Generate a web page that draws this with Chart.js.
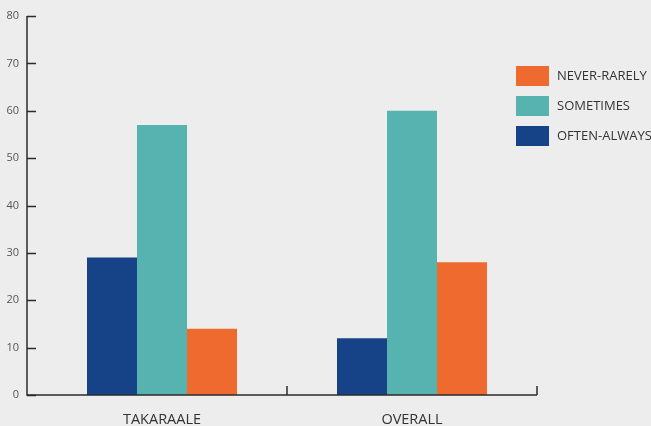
<!DOCTYPE html>
<html>
<head>
<meta charset="utf-8">
<script src="https://cdn.jsdelivr.net/npm/chart.js@4/dist/chart.umd.min.js"></script>
<style>
  html, body { margin: 0; padding: 0; background: #ededed; }
  #wrap { width: 651px; height: 426px; }
</style>
</head>
<body>
<div id="wrap"><canvas id="c" width="651" height="426"></canvas></div>
<script>
const categories = ['TAKARAALE', 'OVERALL'];
const oftenAlways = [29, 12];
const sometimes = [57, 60];
const neverRarely = [14, 28];
const yTicks = [0, 10, 20, 30, 40, 50, 60, 70, 80];

const FONT = '"Open Sans", "Noto Sans", sans-serif';
const AXIS = '#2b2b2b';
const AXIS_X = 27; // the vertical axis line sits a little left of the plotting area

// Axis lines, inward tick marks and the right-hand legend
const decor = {
  id: 'decor',
  afterDraw(chart) {
    const ctx = chart.ctx;
    const { left, right, top, bottom } = chart.chartArea;
    const y = chart.scales.y;
    ctx.save();
    ctx.strokeStyle = AXIS;
    ctx.lineWidth = 1.5;
    ctx.beginPath();
    ctx.moveTo(AXIS_X, top);
    ctx.lineTo(AXIS_X, bottom);
    ctx.lineTo(right, bottom);
    ctx.stroke();
    yTicks.forEach(v => {
      const py = Math.round(y.getPixelForValue(v)) + 0.5;
      ctx.beginPath();
      ctx.moveTo(AXIS_X, py);
      ctx.lineTo(AXIS_X + 9, py);
      ctx.stroke();
    });
    // category boundaries on the x axis
    for (let i = 1; i <= categories.length; i++) {
      const px = left + (right - left) * i / categories.length;
      ctx.beginPath();
      ctx.moveTo(px, bottom);
      ctx.lineTo(px, bottom - 9);
      ctx.stroke();
    }
    // legend, listed in reverse dataset order
    const ds = chart.data.datasets.slice().reverse();
    ctx.font = '13px ' + FONT;
    ctx.textBaseline = 'middle';
    ds.forEach((d, i) => {
      const t = 66 + i * 30;
      ctx.fillStyle = d.backgroundColor;
      ctx.fillRect(516, t, 33, 20);
      ctx.fillStyle = '#333';
      ctx.fillText(d.label, 557, t + 10);
    });
    ctx.restore();
  }
};

new Chart(document.getElementById('c'), {
  type: 'bar',
  data: {
    labels: categories,
    datasets: [
      { label: 'OFTEN-ALWAYS', data: oftenAlways, backgroundColor: '#164288' },
      { label: 'SOMETIMES', data: sometimes, backgroundColor: '#56b3b0' },
      { label: 'NEVER-RARELY', data: neverRarely, backgroundColor: '#ee6a2f' }
    ]
  },
  options: {
    responsive: false,
    animation: false,
    layout: { padding: { top: 16, right: 114, left: 0, bottom: 0 } },
    plugins: { legend: { display: false }, tooltip: { enabled: false } },
    datasets: { bar: { categoryPercentage: 0.6, barPercentage: 1.0 } },
    scales: {
      x: {
        grid: { display: false, drawTicks: false },
        border: { display: false },
        ticks: { color: '#333', font: { family: FONT, size: 14.5 }, padding: 16 },
        afterFit: s => { s.height = 31; s.paddingLeft = 0; s.paddingRight = 0; }
      },
      y: {
        min: 0, max: 80,
        afterBuildTicks: s => { s.ticks = yTicks.map(v => ({ value: v })); },
        grid: { display: false, drawTicks: false },
        border: { display: false },
        ticks: { color: '#555', font: { family: FONT, size: 11 }, padding: 18 },
        afterFit: s => { s.width = 37; s.paddingTop = 0; s.paddingBottom = 0; }
      }
    }
  },
  plugins: [decor]
});
</script>
</body>
</html>
